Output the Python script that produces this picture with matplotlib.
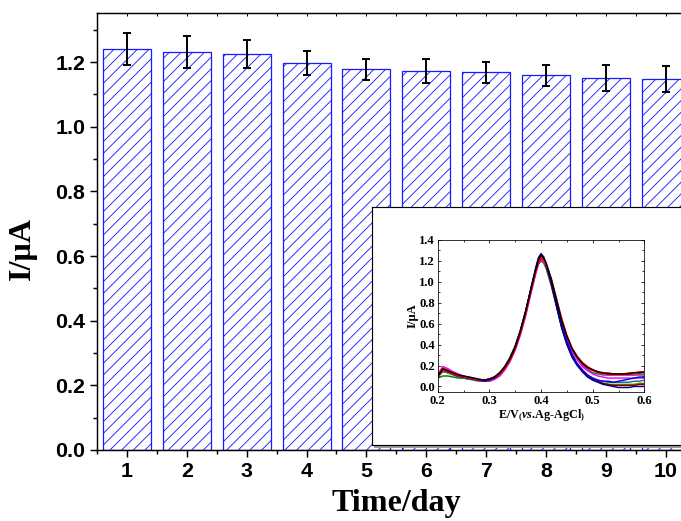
import numpy as np
import matplotlib
matplotlib.use("Agg")
import matplotlib.pyplot as plt
from matplotlib.ticker import MultipleLocator, FormatStrFormatter
from matplotlib.patches import Rectangle

# ---------- datos de las barras ----------
dias = [1, 2, 3, 4, 5, 6, 7, 8, 9, 10]
corriente = [1.241, 1.231, 1.224, 1.196, 1.178, 1.173, 1.168, 1.159, 1.151, 1.149]
error = [0.050, 0.050, 0.043, 0.037, 0.032, 0.037, 0.032, 0.032, 0.039, 0.040]

# ---------- datos del inset (DPV) ----------
potencial = [0.20, 0.21, 0.22, 0.23, 0.24, 0.25, 0.26, 0.27, 0.28, 0.29, 0.30,
             0.31, 0.32, 0.33, 0.34, 0.35, 0.36, 0.37, 0.38, 0.39, 0.395, 0.40,
             0.405, 0.41, 0.42, 0.43, 0.44, 0.45, 0.46, 0.47, 0.48, 0.49, 0.50,
             0.51, 0.52, 0.53, 0.54, 0.55, 0.56, 0.57, 0.58, 0.59, 0.60]

curva_negra = [0.10, 0.17, 0.15, 0.13, 0.11, 0.10, 0.09, 0.08, 0.07, 0.06, 0.07,
               0.09, 0.13, 0.19, 0.27, 0.38, 0.53, 0.71, 0.92, 1.12, 1.21, 1.25,
               1.23, 1.18, 1.02, 0.83, 0.63, 0.48, 0.36, 0.28, 0.22, 0.18, 0.16,
               0.14, 0.13, 0.12, 0.12, 0.12, 0.12, 0.12, 0.13, 0.13, 0.14]
curva_roja = [0.09, 0.15, 0.14, 0.12, 0.10, 0.09, 0.08, 0.07, 0.06, 0.06, 0.07,
              0.09, 0.12, 0.18, 0.26, 0.37, 0.51, 0.69, 0.90, 1.10, 1.18, 1.22,
              1.21, 1.17, 1.03, 0.84, 0.65, 0.49, 0.37, 0.29, 0.23, 0.19, 0.16,
              0.14, 0.13, 0.13, 0.12, 0.12, 0.12, 0.13, 0.13, 0.14, 0.14]
curva_verde = [0.08, 0.10, 0.10, 0.09, 0.08, 0.08, 0.07, 0.07, 0.06, 0.06, 0.07,
               0.09, 0.13, 0.19, 0.28, 0.39, 0.54, 0.72, 0.92, 1.10, 1.17, 1.20,
               1.18, 1.13, 0.97, 0.78, 0.59, 0.45, 0.34, 0.26, 0.20, 0.16, 0.13,
               0.12, 0.11, 0.11, 0.11, 0.11, 0.11, 0.11, 0.11, 0.11, 0.11]
curva_azul = [0.10, 0.16, 0.14, 0.12, 0.10, 0.09, 0.08, 0.07, 0.06, 0.05, 0.06,
              0.08, 0.12, 0.18, 0.26, 0.37, 0.52, 0.70, 0.92, 1.13, 1.22, 1.26,
              1.23, 1.16, 0.99, 0.78, 0.58, 0.43, 0.31, 0.22, 0.16, 0.11, 0.08,
              0.06, 0.05, 0.05, 0.04, 0.05, 0.06, 0.07, 0.08, 0.09, 0.09]
curva_magenta = [0.12, 0.19, 0.17, 0.14, 0.12, 0.10, 0.09, 0.08, 0.06, 0.05, 0.05,
                 0.07, 0.10, 0.16, 0.24, 0.35, 0.49, 0.67, 0.88, 1.08, 1.17, 1.21,
                 1.20, 1.16, 1.01, 0.81, 0.61, 0.46, 0.34, 0.26, 0.19, 0.15, 0.12,
                 0.10, 0.09, 0.08, 0.08, 0.08, 0.08, 0.08, 0.08, 0.08, 0.08]
curva_cian = [0.09, 0.14, 0.13, 0.11, 0.09, 0.08, 0.07, 0.06, 0.05, 0.05, 0.06,
              0.08, 0.12, 0.18, 0.27, 0.38, 0.53, 0.71, 0.91, 1.10, 1.18, 1.21,
              1.19, 1.13, 0.96, 0.76, 0.56, 0.41, 0.29, 0.21, 0.15, 0.11, 0.08,
              0.06, 0.05, 0.04, 0.04, 0.04, 0.04, 0.04, 0.05, 0.05, 0.06]
curva_oliva = [0.09, 0.15, 0.13, 0.11, 0.10, 0.09, 0.08, 0.07, 0.06, 0.06, 0.07,
               0.09, 0.13, 0.19, 0.27, 0.38, 0.53, 0.71, 0.91, 1.10, 1.18, 1.21,
               1.19, 1.14, 0.97, 0.77, 0.57, 0.42, 0.30, 0.21, 0.15, 0.10, 0.07,
               0.05, 0.03, 0.02, 0.02, 0.02, 0.02, 0.02, 0.02, 0.03, 0.03]
curva_marino = [0.10, 0.16, 0.14, 0.12, 0.10, 0.09, 0.08, 0.07, 0.06, 0.06, 0.07,
                0.09, 0.12, 0.18, 0.26, 0.37, 0.52, 0.71, 0.93, 1.14, 1.23, 1.27,
                1.24, 1.17, 0.99, 0.77, 0.56, 0.40, 0.28, 0.20, 0.14, 0.09, 0.06,
                0.04, 0.02, 0.01, 0.00, -0.01, -0.01, -0.01, 0.00, 0.00, 0.00]
curva_vino = [0.10, 0.16, 0.14, 0.12, 0.10, 0.09, 0.08, 0.07, 0.06, 0.06, 0.07,
              0.09, 0.13, 0.19, 0.27, 0.38, 0.53, 0.71, 0.92, 1.12, 1.20, 1.23,
              1.21, 1.15, 0.98, 0.77, 0.57, 0.41, 0.29, 0.21, 0.15, 0.10, 0.07,
              0.05, 0.03, 0.02, 0.01, 0.01, 0.01, 0.01, 0.01, 0.02, 0.02]
curva_rosa = [0.11, 0.18, 0.16, 0.13, 0.11, 0.10, 0.08, 0.07, 0.06, 0.05, 0.05,
              0.07, 0.10, 0.16, 0.24, 0.35, 0.50, 0.68, 0.89, 1.10, 1.19, 1.23,
              1.22, 1.17, 1.02, 0.82, 0.63, 0.48, 0.36, 0.27, 0.21, 0.17, 0.15,
              0.13, 0.12, 0.11, 0.11, 0.11, 0.11, 0.11, 0.11, 0.12, 0.12]

curvas = [curva_verde, curva_cian, curva_oliva, curva_vino, curva_magenta,
          curva_rosa, curva_azul, curva_marino, curva_roja, curva_negra]
colores_curvas = ['#008000', '#008080', '#808000', '#800000', '#FF00FF',
                  '#FF1493', '#0000FF', '#000080', '#FF0000', '#000000']

# ---------- configuración general ----------
plt.rcParams['hatch.color'] = '#2a2aff'
plt.rcParams['hatch.linewidth'] = 0.9
plt.rcParams['mathtext.fontset'] = 'custom'
plt.rcParams['mathtext.rm'] = 'Liberation Serif:bold'
plt.rcParams['mathtext.it'] = 'Liberation Serif:italic:bold'

DPI = 70
fig = plt.figure(figsize=(682 / DPI, 521 / DPI), dpi=DPI)

# ---------- eje principal (el borde derecho queda fuera de la imagen) ----------
ax = fig.add_axes([0.1422, 0.1363, 0.878, 0.8388])
ax.bar(dias, corriente, width=0.8, color='white', edgecolor='#1a1aff',
       linewidth=1.3, hatch='//', zorder=2)
ax.errorbar(dias, corriente, yerr=error, fmt='none', ecolor='black',
            elinewidth=2, capsize=4.5, capthick=2, zorder=3)

ax.set_xlim(0.5, 10.5)
ax.set_ylim(0, 1.352)
ax.xaxis.set_major_locator(MultipleLocator(1))
ax.xaxis.set_minor_locator(MultipleLocator(0.5))
ax.yaxis.set_major_locator(MultipleLocator(0.2))
ax.yaxis.set_minor_locator(MultipleLocator(0.1))
ax.yaxis.set_major_formatter(FormatStrFormatter('%.1f'))
ax.tick_params(which='major', direction='out', length=7, width=1.5,
               labelsize=22, pad=5)
ax.tick_params(which='minor', direction='out', length=4, width=1.5)
for lab in ax.get_xticklabels() + ax.get_yticklabels():
    lab.set_family('Liberation Sans')
    lab.set_fontweight('bold')
for s in ax.spines.values():
    s.set_linewidth(1.5)

# marcas pequeñas hacia dentro en el borde superior
arriba = ax.secondary_xaxis('top')
arriba.xaxis.set_major_locator(MultipleLocator(0.5))
arriba.tick_params(direction='in', length=3, width=1, labeltop=False)

ax.set_xlabel('Time/day', family='Liberation Serif', fontweight='bold',
              fontsize=33, labelpad=9)
ax.set_ylabel('I/μA', family='Liberation Serif', fontweight='bold', fontsize=33)
ax.yaxis.set_label_coords(-0.100, 0.46)

# ---------- marco blanco del inset con sombra ----------
fig.patches.append(Rectangle((0.5485, 0.140), 0.6, 0.4568, transform=fig.transFigure,
                             facecolor='#9a9a9a', edgecolor='none', zorder=4))
marco = fig.add_axes([0.5455, 0.1459, 0.6, 0.4568])
marco.set_zorder(5)
marco.set_xticks([])
marco.set_yticks([])
for s in marco.spines.values():
    s.set_linewidth(1.2)

# ---------- inset con las curvas DPV ----------
axi = fig.add_axes([0.6418, 0.2482, 0.303, 0.2912])
axi.set_zorder(6)
for y, c in zip(curvas, colores_curvas):
    axi.plot(potencial, y, color=c, linewidth=1.5)
axi.set_xlim(0.2, 0.6)
axi.set_ylim(-0.05, 1.4)
axi.xaxis.set_major_locator(MultipleLocator(0.1))
axi.xaxis.set_minor_locator(MultipleLocator(0.05))
axi.yaxis.set_major_locator(MultipleLocator(0.2))
axi.yaxis.set_minor_locator(MultipleLocator(0.1))
axi.xaxis.set_major_formatter(FormatStrFormatter('%.1f'))
axi.yaxis.set_major_formatter(FormatStrFormatter('%.1f'))
axi.tick_params(which='major', direction='in', length=3, width=0.8,
                labelsize=13, top=True, right=True, pad=3)
axi.tick_params(which='minor', direction='in', length=1.8, width=0.8,
                top=True, right=True)
for lab in axi.get_xticklabels() + axi.get_yticklabels():
    lab.set_family('Liberation Serif')
    lab.set_fontweight('bold')
for s in axi.spines.values():
    s.set_linewidth(0.8)
axi.set_xlabel(r'E/V$_{(}\mathit{vs}$.Ag-AgCl$_{)}$', family='Liberation Serif',
               fontweight='bold', fontsize=12.5, labelpad=1)
axi.set_ylabel('I/μA', family='Liberation Serif', fontweight='bold',
               fontsize=13, labelpad=1)

fig.savefig('out.png', dpi=DPI)
